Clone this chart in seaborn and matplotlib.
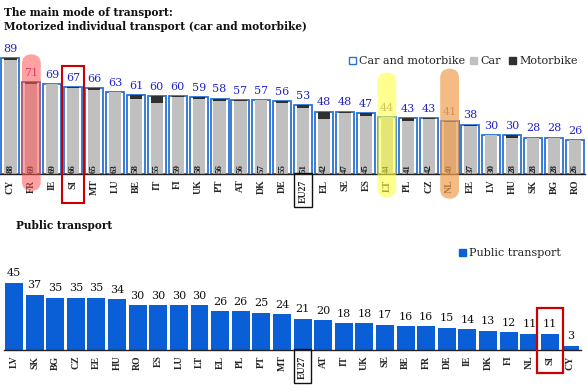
import matplotlib
matplotlib.use("Agg")
import matplotlib.pyplot as plt
import seaborn as sns
import numpy as np
from matplotlib.patches import FancyBboxPatch, Rectangle
from matplotlib.transforms import IdentityTransform

# ---------------- data ----------------
top_countries = ["CY", "FR", "IE", "SI", "MT", "LU", "BE", "IT", "FI", "UK", "PT", "AT", "DK", "DE",
                 "EU27", "EL", "SE", "ES", "LT", "PL", "CZ", "NL", "EE", "LV", "HU", "SK", "BG", "RO"]
top_labels = ["CY", "FR", "IE", "SI", "MT", "LU", "BE", "IT", "FI", "UK", "PT", "AT", "DK", "DE",
              "EU27", "EL", "SE", "ES", "LT", "PL", "CZ", "NL", "EE", "LV", "HU", "SK", "BG", "RO"]
car_and_moto = [89, 71, 69, 67, 66, 63, 61, 60, 60, 59, 58, 57, 57, 56,
                53, 48, 48, 47, 44, 43, 43, 41, 38, 30, 30, 28, 28, 26]
car_only = [88, 69, 69, 66, 65, 63, 58, 55, 59, 58, 56, 56, 57, 55,
            51, 42, 47, 45, 44, 41, 42, 40, 37, 30, 28, 28, 28, 26]

pub_countries = ["LV", "SK", "BG", "CZ", "EE", "HU", "RO", "ES", "LU", "LT", "EL", "PL", "PT", "MT",
                 "EU27", "AT", "IT", "UK", "SE", "BE", "FR", "DE", "IE", "DK", "FI", "NL", "SI", "CY"]
public_transport = [45, 37, 35, 35, 35, 34, 30, 30, 30, 30, 26, 26, 25, 24,
                    21, 20, 18, 18, 17, 16, 16, 15, 14, 13, 12, 11, 11, 3]

# ---------------- style ----------------
BLUE_EDGE = "#2a72d4"
GRAY = "#c0c0c0"
DARK = "#303030"
PT_BLUE = "#0b5fd6"
NUM_BLUE = "#2222cc"
SERIF_NUM = "DejaVu Serif"
SERIF_LBL = "Liberation Serif"

sns.set_style("white")
W, H = 587, 392
fig = plt.figure(figsize=(W / 100, H / 100), dpi=100)

# ---------------- top panel ----------------
ax1 = fig.add_axes([0 / W, (H - 174) / H, 585.5 / W, 130 / H])
sns.barplot(x=top_countries, y=car_and_moto, order=top_countries, ax=ax1, color="white",
            edgecolor=BLUE_EDGE, linewidth=1.3, width=0.86, saturation=1)
sns.barplot(x=top_countries, y=car_and_moto, order=top_countries, ax=ax1, color=DARK,
            linewidth=0, width=0.58, saturation=1)
sns.barplot(x=top_countries, y=car_only, order=top_countries, ax=ax1, color=GRAY,
            linewidth=0, width=0.58, saturation=1)
ax1.set_ylim(0, 100)
ax1.set_xlim(-0.5, len(top_countries) - 0.5)

for i, (t, c) in enumerate(zip(car_and_moto, car_only)):
    col = NUM_BLUE
    if top_countries[i] == "FR":
        col = "#b0208a"
    elif top_countries[i] in ("LT", "NL"):
        col = "#8a6a8a"
    ax1.annotate(str(t), (i, t), xytext=(0, 3), textcoords="offset points", ha="center",
                 va="bottom", color=col, fontsize=8, family=SERIF_NUM)
    ax1.text(i, 1.0, str(c), rotation=90, ha="center", va="bottom", fontsize=6.5,
             family=SERIF_LBL, fontweight="bold", color="#222222")

# ---------------- bottom panel ----------------
ax2 = fig.add_axes([3.7 / W, (H - 350) / H, 577.1 / W, 90 / H])
sns.barplot(x=pub_countries, y=public_transport, order=pub_countries, ax=ax2, color=PT_BLUE,
            linewidth=0, width=0.87, saturation=1)
ax2.set_ylim(0, 60)
ax2.set_xlim(-0.5, len(pub_countries) - 0.5)
for i, v in enumerate(public_transport):
    ax2.annotate(str(v), (i, v), xytext=(0, 3), textcoords="offset points", ha="center",
                 va="bottom", color="#111111", fontsize=8, family=SERIF_NUM)

for ax, labels in ((ax1, top_labels), (ax2, pub_countries)):
    for s in ("top", "right", "left"):
        ax.spines[s].set_visible(False)
    ax.spines["bottom"].set_color("#222222")
    ax.spines["bottom"].set_linewidth(1.0)
    ax.set_yticks([])
    ax.set_ylabel("")
    ax.set_xlabel("")
    n = len(labels)
    ax.set_xticks(range(n))
    ax.set_xticklabels(labels, rotation=90, family=SERIF_LBL, fontweight="bold", fontsize=7)
    ax.tick_params(axis="x", which="major", length=0, pad=4)
    ax.set_xticks(np.arange(-0.5, n, 1.0), minor=True)
    ax.tick_params(axis="x", which="minor", length=3, width=0.8, color="#222222", direction="out")
    ax.set_facecolor("none")

# ---------------- legends ----------------
def legend_item(x, y, face, edge, text):
    fig.patches.append(Rectangle((x / W, 1 - (y + 4) / H), 7 / W, 7 / H, transform=fig.transFigure,
                                 facecolor=face, edgecolor=edge, linewidth=1.0))
    fig.text((x + 10) / W, 1 - (y + 1) / H, text, fontsize=8, family=SERIF_NUM, va="center",
             color="#222222")

legend_item(349, 60, "white", BLUE_EDGE, "Car and motorbike")
legend_item(470, 60, GRAY, GRAY, "Car")
legend_item(509, 60, DARK, DARK, "Motorbike")
legend_item(459, 252, PT_BLUE, PT_BLUE, "Public transport")

# ---------------- titles ----------------
fig.text(4 / W, 1 - 13 / H, "The main mode of transport:", fontsize=7.6, fontweight="bold",
         family=SERIF_NUM, va="center", color="#111111")
fig.text(4 / W, 1 - 27 / H, "Motorized individual transport (car and motorbike)", fontsize=7.6,
         fontweight="bold", family=SERIF_NUM, va="center", color="#111111")
fig.text(16 / W, 1 - 225 / H, "Public transport", fontsize=7.6, fontweight="bold",
         family=SERIF_NUM, va="center", color="#111111")

# ---------------- highlights ----------------
fig.canvas.draw()

def px(ax, x, y):
    return ax.transData.transform((x, y))

def pill(ax, idx, ytop, ybot, color, alpha):
    x0, y0 = px(ax, idx - 0.45, ybot)
    x1, y1 = px(ax, idx + 0.45, ytop)
    w = x1 - x0
    r = w / 2
    p = FancyBboxPatch((x0, y0), w, y1 - y0,
                       boxstyle=f"round,pad=0,rounding_size={r}", transform=IdentityTransform(),
                       facecolor=color, edgecolor="none", alpha=alpha, zorder=5)
    fig.patches.append(p)

def box(ax, idx, ytop, ybot, color, lw, half=0.52):
    x0, y0 = px(ax, idx - half, ybot)
    x1, y1 = px(ax, idx + half, ytop)
    p = Rectangle((x0, y0), x1 - x0, y1 - y0, transform=IdentityTransform(), facecolor="none",
                  edgecolor=color, linewidth=lw, zorder=6)
    fig.patches.append(p)

pill(ax1, top_countries.index("FR"), 92, -13, "#ff5555", 0.55)
pill(ax1, top_countries.index("LT"), 78, -18, "#ffff44", 0.6)
pill(ax1, top_countries.index("NL"), 81, -19, "#f0a050", 0.7)
box(ax1, top_countries.index("SI"), 83, -22, "#cc0000", 1.5)
box(ax1, top_countries.index("EU27"), 0.5, -25, "#111111", 1.0, half=0.42)
box(ax2, pub_countries.index("EU27"), 0.5, -22, "#111111", 1.0, half=0.40)
box(ax2, pub_countries.index("SI"), 28, -15, "#cc0000", 1.6, half=0.63)

fig.savefig("out.png", dpi=100)
